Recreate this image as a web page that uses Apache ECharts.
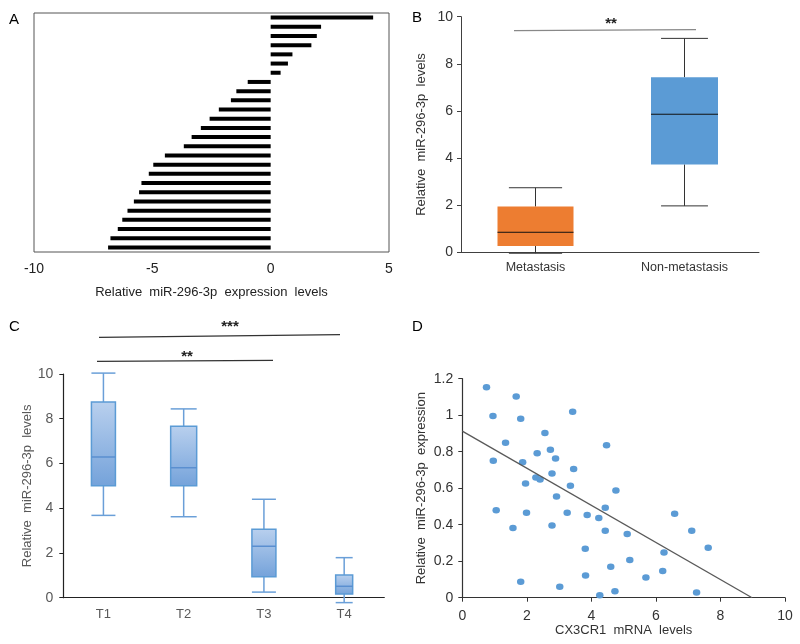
<!DOCTYPE html>
<html><head><meta charset="utf-8">
<script src="https://cdn.jsdelivr.net/npm/echarts@6/dist/echarts.min.js"></script>
<style>html,body{margin:0;padding:0;background:#fff}#c{width:800px;height:644px}</style>
</head><body><div id="c"></div>
<script>
// ---------- Panel A: waterfall of relative expression ----------
const aValues = [4.33, 2.13, 1.95, 1.72, 0.92, 0.73, 0.42, -0.97, -1.45, -1.68, -2.19, -2.58, -2.95,
  -3.34, -3.67, -4.47, -4.96, -5.15, -5.46, -5.56, -5.78, -6.05, -6.27, -6.46, -6.77, -6.87];
const aCategories = aValues.map((v, i) => 'Case ' + (i + 1));
const aTicks = [-10, -5, 0, 5];

// ---------- Panel B: boxplot Metastasis vs Non-metastasis ----------
const bCategories = ['Metastasis', 'Non-metastasis'];
// [min, Q1, median, Q3, max]
const bMetastasis = [-0.04, 0.27, 0.85, 1.94, 2.74];
const bNonMetastasis = [1.97, 3.73, 5.86, 7.43, 9.08];
const bTicks = [0, 2, 4, 6, 8, 10];

// ---------- Panel C: boxplot by T stage ----------
const cCategories = ['T1', 'T2', 'T3', 'T4'];
const cT1 = [3.68, 5.01, 6.29, 8.75, 10.04];
const cT2 = [3.62, 5.01, 5.81, 7.66, 8.44];
const cT3 = [0.25, 0.94, 2.30, 3.06, 4.40];
const cT4 = [-0.22, 0.16, 0.51, 1.01, 1.79];
const cTicks = [0, 2, 4, 6, 8, 10];

// ---------- Panel D: scatter CX3CR1 vs miR-296-3p ----------
const dX = [0.75, 1.67, 0.95, 1.81, 3.42, 2.56, 1.34, 2.73, 4.47, 2.32, 2.89, 0.96, 1.87, 3.45, 2.78, 2.28,
  2.41, 1.96, 3.35, 4.76, 2.92, 4.43, 1.05, 1.99, 3.25, 6.58, 3.87, 4.23, 2.78, 1.57, 4.43, 7.11, 5.11,
  3.81, 7.62, 6.25, 5.19, 4.60, 6.21, 3.82, 5.69, 1.81, 3.02, 4.73, 7.26, 4.26];
const dY = [1.153, 1.103, 0.995, 0.981, 1.019, 0.902, 0.849, 0.811, 0.835, 0.791, 0.763, 0.751, 0.742,
  0.705, 0.681, 0.658, 0.647, 0.626, 0.614, 0.588, 0.555, 0.493, 0.479, 0.466, 0.466, 0.460, 0.453,
  0.437, 0.396, 0.382, 0.367, 0.367, 0.349, 0.268, 0.274, 0.247, 0.206, 0.170, 0.146, 0.121, 0.111,
  0.088, 0.060, 0.035, 0.029, 0.013];
const dFitX = [0, 8.98];
const dFitY = [0.913, 0];
const dXTicks = [0, 2, 4, 6, 8, 10];
const dYTicks = [0, 0.2, 0.4, 0.6, 0.8, 1.0, 1.2];

// ---------- styles ----------
const FONT = 'Liberation Sans, Arial, sans-serif';
const bStyle = {
  widths: [76, 67], capRatio: 0.7,
  fills: ['#ED7D31', '#5B9BD5'], stroke: null,
  whisker: '#333', median: '#111', lw: 1
};
const cStyle = {
  widths: [24, 26, 24, 17], capRatio: 1,
  fills: null, stroke: '#5B9BD5',
  whisker: '#6A9FD8', median: '#5A8FD0', lw: 1.5
};

function boxRender(st) {
  return function (params, api) {
    const i = api.value(0);
    const lo = api.coord([i, api.value(1)]);
    const q1 = api.coord([i, api.value(2)]);
    const md = api.coord([i, api.value(3)]);
    const q3 = api.coord([i, api.value(4)]);
    const hi = api.coord([i, api.value(5)]);
    const x = md[0];
    const w = st.widths[i];
    const cw = w * st.capRatio;
    const fill = st.fills ? st.fills[i] : new echarts.graphic.LinearGradient(0, 0, 0, 1, [
      { offset: 0, color: '#B9D0EE' }, { offset: 1, color: '#74A2DA' }]);
    const ls = { stroke: st.whisker, lineWidth: st.lw };
    return {
      type: 'group',
      children: [
        { type: 'line', shape: { x1: x, y1: hi[1], x2: x, y2: q3[1] }, style: ls },
        { type: 'line', shape: { x1: x, y1: q1[1], x2: x, y2: lo[1] }, style: ls },
        { type: 'line', shape: { x1: x - cw / 2, y1: hi[1], x2: x + cw / 2, y2: hi[1] }, style: ls },
        { type: 'line', shape: { x1: x - cw / 2, y1: lo[1], x2: x + cw / 2, y2: lo[1] }, style: ls },
        { type: 'rect', shape: { x: x - w / 2, y: q3[1], width: w, height: q1[1] - q3[1] },
          style: { fill: fill, stroke: st.stroke, lineWidth: st.stroke ? 1.5 : 0 } },
        { type: 'line', shape: { x1: x - w / 2, y1: md[1], x2: x + w / 2, y2: md[1] },
          style: { stroke: st.median, lineWidth: st.lw } }
      ]
    };
  };
}

const bData = [bMetastasis, bNonMetastasis].map((b, i) => [i].concat(b));
const cData = [cT1, cT2, cT3, cT4].map((b, i) => [i].concat(b));
const dData = dX.map((x, i) => [x, dY[i]]);
const dFit = dFitX.map((x, i) => [x, dFitY[i]]);

function valAxis(ticks, extra) {
  return Object.assign({
    type: 'value', min: ticks[0], max: ticks[ticks.length - 1], interval: ticks[1] - ticks[0],
    splitLine: { show: false }
  }, extra);
}

const chart = echarts.init(document.getElementById('c'));
chart.setOption({
  animation: false,
  textStyle: { fontFamily: FONT },
  grid: [
    { left: 34, top: 13, width: 355, height: 239, show: true, borderColor: '#555', borderWidth: 1, backgroundColor: 'transparent' },
    { left: 461, top: 16.7, width: 298, height: 235.6 },
    { left: 63.3, top: 374, width: 321, height: 223.7 },
    { left: 462.3, top: 378.7, width: 322.7, height: 219 }
  ],
  xAxis: [
    valAxis(aTicks, {
      gridIndex: 0, axisLine: { show: false }, axisTick: { show: false },
      axisLabel: { fontSize: 14, color: '#222', margin: 10, fontFamily: FONT },
      name: 'Relative  miR-296-3p  expression  levels', nameLocation: 'middle', nameGap: 34,
      nameTextStyle: { fontSize: 13, color: '#222', fontFamily: FONT }
    }),
    {
      gridIndex: 1, type: 'category', data: bCategories,
      axisLine: { lineStyle: { color: '#404040', width: 1 } }, axisTick: { show: false },
      axisLabel: { fontSize: 12.5, color: '#333', margin: 9, fontFamily: FONT }
    },
    {
      gridIndex: 2, type: 'category', data: cCategories,
      axisLine: { lineStyle: { color: '#222', width: 1.2 } }, axisTick: { show: false },
      axisLabel: { fontSize: 13, color: '#595959', margin: 10, fontFamily: FONT }
    },
    valAxis(dXTicks, {
      gridIndex: 3,
      axisLine: { lineStyle: { color: '#333', width: 1.2 } },
      axisTick: { show: true, length: 4, lineStyle: { color: '#333' } },
      axisLabel: { fontSize: 14, color: '#333', margin: 11, fontFamily: FONT },
      name: 'CX3CR1  mRNA  levels', nameLocation: 'middle', nameGap: 23,
      nameTextStyle: { fontSize: 13, color: '#333', fontFamily: FONT }
    })
  ],
  yAxis: [
    {
      gridIndex: 0, type: 'category', data: aCategories, inverse: true,
      axisLine: { show: false }, axisTick: { show: false }, axisLabel: { show: false }
    },
    valAxis(bTicks, {
      gridIndex: 1,
      axisLine: { show: true, lineStyle: { color: '#404040', width: 1 } },
      axisTick: { show: true, length: 4, lineStyle: { color: '#404040' } },
      axisLabel: { fontSize: 14, color: '#333', margin: 8, fontFamily: FONT },
      name: 'Relative  miR-296-3p  levels', nameLocation: 'middle', nameGap: 33, nameRotate: 90,
      nameTextStyle: { fontSize: 13, color: '#333', fontFamily: FONT }
    }),
    valAxis(cTicks, {
      gridIndex: 2,
      axisLine: { show: true, lineStyle: { color: '#222', width: 1.2 } },
      axisTick: { show: true, length: 4, lineStyle: { color: '#222' } },
      axisLabel: { fontSize: 14, color: '#595959', margin: 10, fontFamily: FONT },
      name: 'Relative  miR-296-3p  levels', nameLocation: 'middle', nameGap: 24, nameRotate: 90,
      nameTextStyle: { fontSize: 13, color: '#595959', fontFamily: FONT }
    }),
    valAxis(dYTicks, {
      gridIndex: 3,
      axisLine: { show: true, lineStyle: { color: '#333', width: 1.2 } },
      axisTick: { show: true, length: 4, lineStyle: { color: '#333' } },
      axisLabel: { fontSize: 14, color: '#333', margin: 9, fontFamily: FONT },
      name: 'Relative  miR-296-3p  expression', nameLocation: 'middle', nameGap: 34, nameRotate: 90,
      nameTextStyle: { fontSize: 13, color: '#333', fontFamily: FONT }
    })
  ],
  series: [
    {
      type: 'bar', xAxisIndex: 0, yAxisIndex: 0, data: aValues, barWidth: 4,
      itemStyle: { color: '#000' }
    },
    {
      type: 'custom', xAxisIndex: 1, yAxisIndex: 1, data: bData,
      encode: { x: 0, y: [1, 2, 3, 4, 5] }, renderItem: boxRender(bStyle)
    },
    {
      type: 'custom', xAxisIndex: 2, yAxisIndex: 2, data: cData,
      encode: { x: 0, y: [1, 2, 3, 4, 5] }, renderItem: boxRender(cStyle)
    },
    {
      type: 'scatter', xAxisIndex: 3, yAxisIndex: 3, data: dData,
      symbol: 'circle', symbolSize: [7.5, 6.5], itemStyle: { color: '#5B9BD5', opacity: 1 }
    },
    {
      type: 'line', xAxisIndex: 3, yAxisIndex: 3, data: dFit, symbol: 'none',
      lineStyle: { color: '#595959', width: 1.3 }
    }
  ],
  graphic: [
    { type: 'text', left: 9, top: 12, style: { text: 'A', fontSize: 15, fill: '#000', fontFamily: FONT } },
    { type: 'text', left: 412, top: 10, style: { text: 'B', fontSize: 15, fill: '#000', fontFamily: FONT } },
    { type: 'text', left: 9, top: 319, style: { text: 'C', fontSize: 15, fill: '#000', fontFamily: FONT } },
    { type: 'text', left: 412, top: 319, style: { text: 'D', fontSize: 15, fill: '#000', fontFamily: FONT } },
    // significance, panel B
    { type: 'line', shape: { x1: 514, y1: 30.7, x2: 696, y2: 29.7 }, style: { stroke: '#888', lineWidth: 1.2 } },
    { type: 'text', x: 611, y: 24, style: { text: '**', fontSize: 15, fontWeight: 'bold', fill: '#222', align: 'center', verticalAlign: 'middle', fontFamily: FONT } },
    // significance, panel C
    { type: 'line', shape: { x1: 99, y1: 337.3, x2: 340, y2: 334.7 }, style: { stroke: '#333', lineWidth: 1.2 } },
    { type: 'text', x: 230, y: 327, style: { text: '***', fontSize: 15, fontWeight: 'bold', fill: '#222', align: 'center', verticalAlign: 'middle', fontFamily: FONT } },
    { type: 'line', shape: { x1: 97, y1: 361.3, x2: 273, y2: 360.3 }, style: { stroke: '#333', lineWidth: 1.2 } },
    { type: 'text', x: 187, y: 357, style: { text: '**', fontSize: 15, fontWeight: 'bold', fill: '#222', align: 'center', verticalAlign: 'middle', fontFamily: FONT } }
  ]
});
</script></body></html>
